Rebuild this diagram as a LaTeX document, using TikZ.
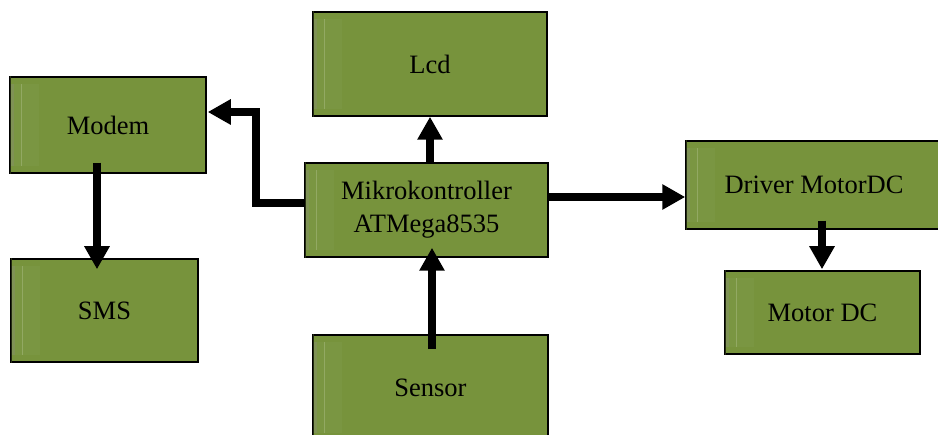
\documentclass[tikz,border=0pt]{standalone}
\usepackage{fontspec}
\setmainfont{Liberation Serif}
\usetikzlibrary{arrows.meta,calc}
\definecolor{olive}{HTML}{77933C}
\definecolor{stripc}{HTML}{7F9255}
\definecolor{stripd}{HTML}{7A9642}
\tikzset{
  box/.style={draw=black, line width=1.5pt, fill=olive, inner sep=0pt,
    font=\fontsize{26.5}{33}\selectfont, text=black, align=center},
  arr/.style={line width=7.5pt, -{Triangle[length=23pt,width=24pt]}, line join=miter},
}
\begin{document}
\begin{tikzpicture}[x=1pt,y=-1pt]
\useasboundingbox (0,0) rectangle (938,435);
\node[box, minimum width=234pt, minimum height=104pt] (lcd) at (430,64) {};
\node[box, minimum width=196pt, minimum height=96pt] (modem) at (108,125) {};
\node[box, minimum width=187pt, minimum height=103pt] (sms) at (104.5,310.5) {};
\node[box, minimum width=243pt, minimum height=94pt] (mikro) at (426.5,210) {};
\node[box, minimum width=256pt, minimum height=88pt] (driver) at (814,185) {};
\node[box, minimum width=195pt, minimum height=83pt] (motor) at (822.5,312.5) {};
\node[box, minimum width=235pt, minimum height=105pt] (sensor) at (430.5,387.5) {};
% bevel strips
\foreach \n in {lcd,modem,sms,mikro,driver,motor,sensor}{
  \fill[stripd] ($(\n.north west)+(5,8)$) rectangle ($(\n.south west)+(30,-8)$);
  \fill[stripc] ($(\n.north west)+(1.5,8)$) rectangle ($(\n.south west)+(5,-8)$);
  \draw[line width=0.8pt, black!70!olive] ($(\n.north west)+(1.5,0)$) -- ($(\n.south west)+(1.5,0)$);
  \draw[line width=0.5pt, olive!80!white] ($(\n.north west)+(12,8)$) -- ($(\n.south west)+(12,-8)$);
}
% labels
\node[box, draw=none, fill=none] at (lcd) {Lcd};
\node[box, draw=none, fill=none] at (modem) {Modem};
\node[box, draw=none, fill=none] at (sms) {SMS};
\node[box, draw=none, fill=none] at (mikro) {Mikrokontroller\\ATMega8535};
\node[box, draw=none, fill=none] at (driver) {Driver MotorDC};
\node[box, draw=none, fill=none] at (motor) {Motor DC};
\node[box, draw=none, fill=none] at (sensor) {Sensor};
% connectors
\coordinate (m2d) at ($(mikro.east)+(0,-13)$);
\draw[arr] (lcd.south |- mikro.north) -- (lcd.south);
\draw[arr] ($(modem.south)+(-11,-11)$) -- ($(sms.north)+(-7.5,11)$);
\draw[arr] ($(mikro.west)+(0,-7)$) -| ($(modem.east)+(49,-13)$) -- ($(modem.east)+(1,-13)$);
\draw[arr] (m2d) -- (m2d -| driver.west);
\draw[arr] ($(sensor.north)+(1.5,15)$) -- ($(sensor.north |- mikro.south)+(1.5,-10)$);
\draw[arr] ($(driver.south)+(8,-9)$) -- ($(motor.north)+(-0.5,-1)$);
\end{tikzpicture}
\end{document}
